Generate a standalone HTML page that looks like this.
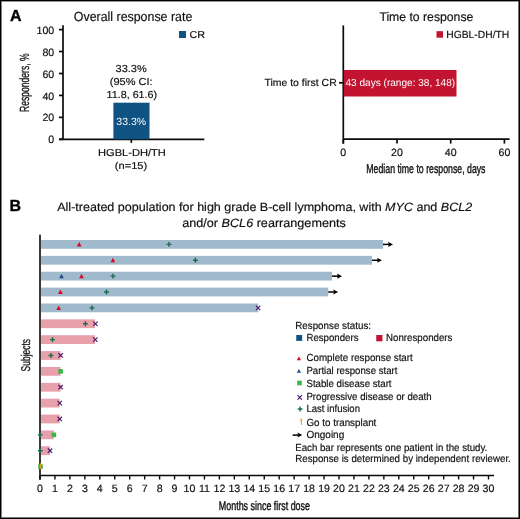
<!DOCTYPE html>
<html><head><meta charset="utf-8"><style>
html,body{margin:0;padding:0;background:#fff;}
#w{position:relative;width:520px;height:519px;overflow:hidden;background:#fff;}
.b{position:absolute;}
svg{position:absolute;left:0;top:0;font-family:"Liberation Sans", sans-serif;will-change:transform;}
</style></head><body><div id="w">
<svg width="520" height="519" viewBox="0 0 520 519" text-rendering="geometricPrecision">
<text x="9.9" y="20.8" font-size="16" text-anchor="start" fill="#000" font-weight="bold" font-style="normal" stroke="#000" stroke-width="0.35">A</text>
<text x="9.6" y="210.8" font-size="16" text-anchor="start" fill="#000" font-weight="bold" font-style="normal" stroke="#000" stroke-width="0.35">B</text>
<line x1="63" y1="25.3" x2="63" y2="140" stroke="#0a0a0a" stroke-width="1.7"/>
<line x1="59" y1="29.6" x2="63" y2="29.6" stroke="#0a0a0a" stroke-width="1.7"/>
<text x="54.2" y="33.7" font-size="10.6" text-anchor="end" fill="#111" font-weight="normal" font-style="normal" stroke="#111" stroke-width="0.18">100</text>
<line x1="59" y1="51.540000000000006" x2="63" y2="51.540000000000006" stroke="#0a0a0a" stroke-width="1.7"/>
<text x="54.2" y="55.64000000000001" font-size="10.6" text-anchor="end" fill="#111" font-weight="normal" font-style="normal" stroke="#111" stroke-width="0.18">80</text>
<line x1="59" y1="73.48" x2="63" y2="73.48" stroke="#0a0a0a" stroke-width="1.7"/>
<text x="54.2" y="77.58" font-size="10.6" text-anchor="end" fill="#111" font-weight="normal" font-style="normal" stroke="#111" stroke-width="0.18">60</text>
<line x1="59" y1="95.42000000000002" x2="63" y2="95.42000000000002" stroke="#0a0a0a" stroke-width="1.7"/>
<text x="54.2" y="99.52000000000001" font-size="10.6" text-anchor="end" fill="#111" font-weight="normal" font-style="normal" stroke="#111" stroke-width="0.18">40</text>
<line x1="59" y1="117.36000000000001" x2="63" y2="117.36000000000001" stroke="#0a0a0a" stroke-width="1.7"/>
<text x="54.2" y="121.46000000000001" font-size="10.6" text-anchor="end" fill="#111" font-weight="normal" font-style="normal" stroke="#111" stroke-width="0.18">20</text>
<line x1="59" y1="139.3" x2="63" y2="139.3" stroke="#0a0a0a" stroke-width="1.7"/>
<text x="54.2" y="143.4" font-size="10.6" text-anchor="end" fill="#111" font-weight="normal" font-style="normal" stroke="#111" stroke-width="0.18">0</text>
<line x1="59" y1="139.3" x2="204.3" y2="139.3" stroke="#0a0a0a" stroke-width="1.7"/>
<line x1="131.3" y1="139.3" x2="131.3" y2="142.9" stroke="#0a0a0a" stroke-width="1.7"/>
<rect x="113.4" y="102.7" width="36.1" height="36.6" fill="#105282"/>
<rect x="179" y="31" width="7" height="7" fill="#105282"/>
<text transform="translate(29.0,82.7) rotate(-90) scale(0.645,1)" x="0" y="0" font-size="13.3" text-anchor="middle" fill="#111" stroke="#111" stroke-width="0.25">Responders, %</text>
<line x1="343.3" y1="25.4" x2="343.3" y2="143.6" stroke="#0a0a0a" stroke-width="1.7"/>
<line x1="343.3" y1="139.2" x2="509.6" y2="139.2" stroke="#0a0a0a" stroke-width="1.7"/>
<line x1="343.3" y1="139.2" x2="343.3" y2="143.6" stroke="#0a0a0a" stroke-width="1.7"/>
<text x="343.3" y="155.8" font-size="10.6" text-anchor="middle" fill="#111" font-weight="normal" font-style="normal" stroke="#111" stroke-width="0.18">0</text>
<line x1="397.0" y1="139.2" x2="397.0" y2="143.6" stroke="#0a0a0a" stroke-width="1.7"/>
<text x="397.0" y="155.8" font-size="10.6" text-anchor="middle" fill="#111" font-weight="normal" font-style="normal" stroke="#111" stroke-width="0.18">20</text>
<line x1="450.70000000000005" y1="139.2" x2="450.70000000000005" y2="143.6" stroke="#0a0a0a" stroke-width="1.7"/>
<text x="450.70000000000005" y="155.8" font-size="10.6" text-anchor="middle" fill="#111" font-weight="normal" font-style="normal" stroke="#111" stroke-width="0.18">40</text>
<line x1="504.40000000000003" y1="139.2" x2="504.40000000000003" y2="143.6" stroke="#0a0a0a" stroke-width="1.7"/>
<text x="504.40000000000003" y="155.8" font-size="10.6" text-anchor="middle" fill="#111" font-weight="normal" font-style="normal" stroke="#111" stroke-width="0.18">60</text>
<line x1="339" y1="82.8" x2="343.3" y2="82.8" stroke="#0a0a0a" stroke-width="1.7"/>
<rect x="343.75" y="70" width="112.75" height="26.5" fill="#c21430"/>
<rect x="436.5" y="31.2" width="6.5" height="6.5" fill="#c21430"/>
<text transform="translate(425.9,173.4) scale(0.684,1)" x="0" y="0" font-size="12.8" text-anchor="middle" fill="#111" stroke="#111" stroke-width="0.4">Median time to response, days</text>
<rect x="41" y="240.0" width="342" height="8.8" fill="#a0b9cd"/>
<line x1="383" y1="244.4" x2="389" y2="244.4" stroke="#000" stroke-width="1.5"/>
<path d="M388,241.8 L393,244.4 L388,247.0 L388.9,244.4 Z" fill="#000"/>
<rect x="41" y="255.87" width="331" height="8.8" fill="#a0b9cd"/>
<line x1="372" y1="260.27" x2="378" y2="260.27" stroke="#000" stroke-width="1.5"/>
<path d="M377,257.66999999999996 L382,260.27 L377,262.87 L377.9,260.27 Z" fill="#000"/>
<rect x="41" y="271.74" width="291" height="8.8" fill="#a0b9cd"/>
<line x1="332" y1="276.14" x2="338" y2="276.14" stroke="#000" stroke-width="1.5"/>
<path d="M337,273.53999999999996 L342,276.14 L337,278.74 L337.9,276.14 Z" fill="#000"/>
<rect x="41" y="287.61" width="287.2" height="8.8" fill="#a0b9cd"/>
<line x1="328.2" y1="292.01" x2="334.2" y2="292.01" stroke="#000" stroke-width="1.5"/>
<path d="M333.2,289.40999999999997 L338.2,292.01 L333.2,294.61 L334.09999999999997,292.01 Z" fill="#000"/>
<rect x="41" y="303.48" width="217.10000000000002" height="8.8" fill="#a0b9cd"/>
<rect x="41" y="319.35" width="54.099999999999994" height="8.8" fill="#e8a0ab"/>
<rect x="41" y="335.22" width="54.099999999999994" height="8.8" fill="#e8a0ab"/>
<rect x="41" y="351.09" width="19.6" height="8.8" fill="#e8a0ab"/>
<rect x="41" y="366.96" width="19.6" height="8.8" fill="#e8a0ab"/>
<rect x="41" y="382.83" width="19.6" height="8.8" fill="#e8a0ab"/>
<rect x="41" y="398.7" width="18.700000000000003" height="8.8" fill="#e8a0ab"/>
<rect x="41" y="414.57" width="18.700000000000003" height="8.8" fill="#e8a0ab"/>
<rect x="41" y="430.44" width="12.899999999999999" height="8.8" fill="#e8a0ab"/>
<rect x="41" y="446.31" width="9.0" height="8.8" fill="#e8a0ab"/>
<line x1="40" y1="234.8" x2="40" y2="479.7" stroke="#0a0a0a" stroke-width="1.6"/>
<line x1="40" y1="475.5" x2="494" y2="475.5" stroke="#0a0a0a" stroke-width="1.6"/>
<line x1="40.0" y1="475.5" x2="40.0" y2="479.5" stroke="#0a0a0a" stroke-width="1.4"/>
<text x="40.0" y="491.8" font-size="10.6" text-anchor="middle" fill="#111" font-weight="normal" font-style="normal" stroke="#111" stroke-width="0.18">0</text>
<line x1="54.95" y1="475.5" x2="54.95" y2="479.5" stroke="#0a0a0a" stroke-width="1.4"/>
<text x="54.95" y="491.8" font-size="10.6" text-anchor="middle" fill="#111" font-weight="normal" font-style="normal" stroke="#111" stroke-width="0.18">1</text>
<line x1="69.9" y1="475.5" x2="69.9" y2="479.5" stroke="#0a0a0a" stroke-width="1.4"/>
<text x="69.9" y="491.8" font-size="10.6" text-anchor="middle" fill="#111" font-weight="normal" font-style="normal" stroke="#111" stroke-width="0.18">2</text>
<line x1="84.85" y1="475.5" x2="84.85" y2="479.5" stroke="#0a0a0a" stroke-width="1.4"/>
<text x="84.85" y="491.8" font-size="10.6" text-anchor="middle" fill="#111" font-weight="normal" font-style="normal" stroke="#111" stroke-width="0.18">3</text>
<line x1="99.8" y1="475.5" x2="99.8" y2="479.5" stroke="#0a0a0a" stroke-width="1.4"/>
<text x="99.8" y="491.8" font-size="10.6" text-anchor="middle" fill="#111" font-weight="normal" font-style="normal" stroke="#111" stroke-width="0.18">4</text>
<line x1="114.75" y1="475.5" x2="114.75" y2="479.5" stroke="#0a0a0a" stroke-width="1.4"/>
<text x="114.75" y="491.8" font-size="10.6" text-anchor="middle" fill="#111" font-weight="normal" font-style="normal" stroke="#111" stroke-width="0.18">5</text>
<line x1="129.7" y1="475.5" x2="129.7" y2="479.5" stroke="#0a0a0a" stroke-width="1.4"/>
<text x="129.7" y="491.8" font-size="10.6" text-anchor="middle" fill="#111" font-weight="normal" font-style="normal" stroke="#111" stroke-width="0.18">6</text>
<line x1="144.64999999999998" y1="475.5" x2="144.64999999999998" y2="479.5" stroke="#0a0a0a" stroke-width="1.4"/>
<text x="144.64999999999998" y="491.8" font-size="10.6" text-anchor="middle" fill="#111" font-weight="normal" font-style="normal" stroke="#111" stroke-width="0.18">7</text>
<line x1="159.6" y1="475.5" x2="159.6" y2="479.5" stroke="#0a0a0a" stroke-width="1.4"/>
<text x="159.6" y="491.8" font-size="10.6" text-anchor="middle" fill="#111" font-weight="normal" font-style="normal" stroke="#111" stroke-width="0.18">8</text>
<line x1="174.54999999999998" y1="475.5" x2="174.54999999999998" y2="479.5" stroke="#0a0a0a" stroke-width="1.4"/>
<text x="174.54999999999998" y="491.8" font-size="10.6" text-anchor="middle" fill="#111" font-weight="normal" font-style="normal" stroke="#111" stroke-width="0.18">9</text>
<line x1="189.5" y1="475.5" x2="189.5" y2="479.5" stroke="#0a0a0a" stroke-width="1.4"/>
<text x="189.5" y="491.8" font-size="10.6" text-anchor="middle" fill="#111" font-weight="normal" font-style="normal" stroke="#111" stroke-width="0.18">10</text>
<line x1="204.45" y1="475.5" x2="204.45" y2="479.5" stroke="#0a0a0a" stroke-width="1.4"/>
<text x="204.45" y="491.8" font-size="10.6" text-anchor="middle" fill="#111" font-weight="normal" font-style="normal" stroke="#111" stroke-width="0.18">11</text>
<line x1="219.39999999999998" y1="475.5" x2="219.39999999999998" y2="479.5" stroke="#0a0a0a" stroke-width="1.4"/>
<text x="219.39999999999998" y="491.8" font-size="10.6" text-anchor="middle" fill="#111" font-weight="normal" font-style="normal" stroke="#111" stroke-width="0.18">12</text>
<line x1="234.35" y1="475.5" x2="234.35" y2="479.5" stroke="#0a0a0a" stroke-width="1.4"/>
<text x="234.35" y="491.8" font-size="10.6" text-anchor="middle" fill="#111" font-weight="normal" font-style="normal" stroke="#111" stroke-width="0.18">13</text>
<line x1="249.29999999999998" y1="475.5" x2="249.29999999999998" y2="479.5" stroke="#0a0a0a" stroke-width="1.4"/>
<text x="249.29999999999998" y="491.8" font-size="10.6" text-anchor="middle" fill="#111" font-weight="normal" font-style="normal" stroke="#111" stroke-width="0.18">14</text>
<line x1="264.25" y1="475.5" x2="264.25" y2="479.5" stroke="#0a0a0a" stroke-width="1.4"/>
<text x="264.25" y="491.8" font-size="10.6" text-anchor="middle" fill="#111" font-weight="normal" font-style="normal" stroke="#111" stroke-width="0.18">15</text>
<line x1="279.2" y1="475.5" x2="279.2" y2="479.5" stroke="#0a0a0a" stroke-width="1.4"/>
<text x="279.2" y="491.8" font-size="10.6" text-anchor="middle" fill="#111" font-weight="normal" font-style="normal" stroke="#111" stroke-width="0.18">16</text>
<line x1="294.15" y1="475.5" x2="294.15" y2="479.5" stroke="#0a0a0a" stroke-width="1.4"/>
<text x="294.15" y="491.8" font-size="10.6" text-anchor="middle" fill="#111" font-weight="normal" font-style="normal" stroke="#111" stroke-width="0.18">17</text>
<line x1="309.09999999999997" y1="475.5" x2="309.09999999999997" y2="479.5" stroke="#0a0a0a" stroke-width="1.4"/>
<text x="309.09999999999997" y="491.8" font-size="10.6" text-anchor="middle" fill="#111" font-weight="normal" font-style="normal" stroke="#111" stroke-width="0.18">18</text>
<line x1="324.05" y1="475.5" x2="324.05" y2="479.5" stroke="#0a0a0a" stroke-width="1.4"/>
<text x="324.05" y="491.8" font-size="10.6" text-anchor="middle" fill="#111" font-weight="normal" font-style="normal" stroke="#111" stroke-width="0.18">19</text>
<line x1="339.0" y1="475.5" x2="339.0" y2="479.5" stroke="#0a0a0a" stroke-width="1.4"/>
<text x="339.0" y="491.8" font-size="10.6" text-anchor="middle" fill="#111" font-weight="normal" font-style="normal" stroke="#111" stroke-width="0.18">20</text>
<line x1="353.95" y1="475.5" x2="353.95" y2="479.5" stroke="#0a0a0a" stroke-width="1.4"/>
<text x="353.95" y="491.8" font-size="10.6" text-anchor="middle" fill="#111" font-weight="normal" font-style="normal" stroke="#111" stroke-width="0.18">21</text>
<line x1="368.9" y1="475.5" x2="368.9" y2="479.5" stroke="#0a0a0a" stroke-width="1.4"/>
<text x="368.9" y="491.8" font-size="10.6" text-anchor="middle" fill="#111" font-weight="normal" font-style="normal" stroke="#111" stroke-width="0.18">22</text>
<line x1="383.84999999999997" y1="475.5" x2="383.84999999999997" y2="479.5" stroke="#0a0a0a" stroke-width="1.4"/>
<text x="383.84999999999997" y="491.8" font-size="10.6" text-anchor="middle" fill="#111" font-weight="normal" font-style="normal" stroke="#111" stroke-width="0.18">23</text>
<line x1="398.79999999999995" y1="475.5" x2="398.79999999999995" y2="479.5" stroke="#0a0a0a" stroke-width="1.4"/>
<text x="398.79999999999995" y="491.8" font-size="10.6" text-anchor="middle" fill="#111" font-weight="normal" font-style="normal" stroke="#111" stroke-width="0.18">24</text>
<line x1="413.75" y1="475.5" x2="413.75" y2="479.5" stroke="#0a0a0a" stroke-width="1.4"/>
<text x="413.75" y="491.8" font-size="10.6" text-anchor="middle" fill="#111" font-weight="normal" font-style="normal" stroke="#111" stroke-width="0.18">25</text>
<line x1="428.7" y1="475.5" x2="428.7" y2="479.5" stroke="#0a0a0a" stroke-width="1.4"/>
<text x="428.7" y="491.8" font-size="10.6" text-anchor="middle" fill="#111" font-weight="normal" font-style="normal" stroke="#111" stroke-width="0.18">26</text>
<line x1="443.65" y1="475.5" x2="443.65" y2="479.5" stroke="#0a0a0a" stroke-width="1.4"/>
<text x="443.65" y="491.8" font-size="10.6" text-anchor="middle" fill="#111" font-weight="normal" font-style="normal" stroke="#111" stroke-width="0.18">27</text>
<line x1="458.59999999999997" y1="475.5" x2="458.59999999999997" y2="479.5" stroke="#0a0a0a" stroke-width="1.4"/>
<text x="458.59999999999997" y="491.8" font-size="10.6" text-anchor="middle" fill="#111" font-weight="normal" font-style="normal" stroke="#111" stroke-width="0.18">28</text>
<line x1="473.54999999999995" y1="475.5" x2="473.54999999999995" y2="479.5" stroke="#0a0a0a" stroke-width="1.4"/>
<text x="473.54999999999995" y="491.8" font-size="10.6" text-anchor="middle" fill="#111" font-weight="normal" font-style="normal" stroke="#111" stroke-width="0.18">29</text>
<line x1="488.5" y1="475.5" x2="488.5" y2="479.5" stroke="#0a0a0a" stroke-width="1.4"/>
<text x="488.5" y="491.8" font-size="10.6" text-anchor="middle" fill="#111" font-weight="normal" font-style="normal" stroke="#111" stroke-width="0.18">30</text>
<path d="M76.85000000000001,246.5 L79.2,241.9 L81.55,246.5 Z" fill="#d60a26"/>
<path d="M166.6,244.4 H171.4 M169,242.0 V246.8" stroke="#1a6b50" stroke-width="1.4" fill="none"/>
<path d="M110.55000000000001,262.37 L112.9,257.77 L115.25,262.37 Z" fill="#d60a26"/>
<path d="M193.0,260.27 H197.8 M195.4,257.87 V262.66999999999996" stroke="#1a6b50" stroke-width="1.4" fill="none"/>
<path d="M59.15,278.24 L61.5,273.64 L63.85,278.24 Z" fill="#1f4f8c"/>
<path d="M79.15,278.24 L81.5,273.64 L83.85,278.24 Z" fill="#d60a26"/>
<path d="M110.6,276.14 H115.4 M113,273.74 V278.53999999999996" stroke="#1a6b50" stroke-width="1.4" fill="none"/>
<path d="M58.05,294.11 L60.4,289.51 L62.75,294.11 Z" fill="#d60a26"/>
<path d="M104.1,292.01 H108.9 M106.5,289.61 V294.40999999999997" stroke="#1a6b50" stroke-width="1.4" fill="none"/>
<path d="M56.35,309.98 L58.7,305.38 L61.050000000000004,309.98 Z" fill="#d60a26"/>
<path d="M89.6,307.88 H94.4 M92,305.48 V310.28" stroke="#1a6b50" stroke-width="1.4" fill="none"/>
<path d="M255.90000000000003,305.68 L260.3,310.08 M260.3,305.68 L255.90000000000003,310.08" stroke="#4a1a6b" stroke-width="1.2" fill="none"/>
<path d="M83.0,323.75 H87.80000000000001 M85.4,321.35 V326.15" stroke="#1a6b50" stroke-width="1.4" fill="none"/>
<path d="M93.2,321.55 L97.60000000000001,325.95 M97.60000000000001,321.55 L93.2,325.95" stroke="#4a1a6b" stroke-width="1.2" fill="none"/>
<path d="M50.1,339.62 H54.9 M52.5,337.22 V342.02" stroke="#1a6b50" stroke-width="1.4" fill="none"/>
<path d="M93.1,337.42 L97.5,341.82 M97.5,337.42 L93.1,341.82" stroke="#4a1a6b" stroke-width="1.2" fill="none"/>
<path d="M48.5,355.48999999999995 H53.3 M50.9,353.09 V357.88999999999993" stroke="#1a6b50" stroke-width="1.4" fill="none"/>
<path d="M58.4,353.28999999999996 L62.800000000000004,357.68999999999994 M62.800000000000004,353.28999999999996 L58.4,357.68999999999994" stroke="#4a1a6b" stroke-width="1.2" fill="none"/>
<rect x="58.300000000000004" y="369.05999999999995" width="4.6" height="4.6" fill="#3cb54a"/>
<path d="M58.4,385.03 L62.800000000000004,389.42999999999995 M62.800000000000004,385.03 L58.4,389.42999999999995" stroke="#4a1a6b" stroke-width="1.2" fill="none"/>
<path d="M57.5,400.9 L61.900000000000006,405.29999999999995 M61.900000000000006,400.9 L57.5,405.29999999999995" stroke="#4a1a6b" stroke-width="1.2" fill="none"/>
<path d="M57.5,416.77 L61.900000000000006,421.16999999999996 M61.900000000000006,416.77 L57.5,421.16999999999996" stroke="#4a1a6b" stroke-width="1.2" fill="none"/>
<path d="M37.9,434.84 H42.699999999999996 M40.3,432.44 V437.23999999999995" stroke="#1a6b50" stroke-width="1.4" fill="none"/>
<rect x="51.6" y="432.53999999999996" width="4.6" height="4.6" fill="#3cb54a"/>
<path d="M37.9,450.71 H42.699999999999996 M40.3,448.31 V453.10999999999996" stroke="#1a6b50" stroke-width="1.4" fill="none"/>
<path d="M47.8,448.51 L52.2,452.90999999999997 M52.2,448.51 L47.8,452.90999999999997" stroke="#4a1a6b" stroke-width="1.2" fill="none"/>
<rect x="38.2" y="464.2799999999999" width="4.6" height="4.6" fill="#3cb54a"/>
<path d="M39.800000000000004,463.2799999999999 H41.6 L41.2,468.0799999999999 L41.800000000000004,468.7799999999999 L41.300000000000004,469.4799999999999 L40.400000000000006,469.17999999999995 L40.300000000000004,467.7799999999999 Z" fill="#f7961e"/>
<text transform="translate(30.1,355.2) rotate(-90) scale(0.67,1)" x="0" y="0" font-size="12.6" text-anchor="middle" fill="#111" stroke="#111" stroke-width="0.28">Subjects</text>
<text transform="translate(264.4,509.5) scale(0.708,1)" x="0" y="0" font-size="12.6" text-anchor="middle" fill="#111" stroke="#111" stroke-width="0.4">Months since first dose</text>
<rect x="296.25" y="335" width="5.9" height="5.9" fill="#105282"/>
<rect x="376.25" y="335" width="6.2" height="6.3" fill="#c21430"/>
<path d="M296.75,360.3 L298.9,356.5 L301.04999999999995,360.3 Z" fill="#d60a26"/>
<path d="M296.75,372.8 L298.9,369.0 L301.04999999999995,372.8 Z" fill="#1f4f8c"/>
<rect x="297.2" y="380.7" width="4.6" height="4.6" fill="#3cb54a"/>
<path d="M297.5,395.2 L301.9,399.59999999999997 M301.9,395.2 L297.5,399.59999999999997" stroke="#4a1a6b" stroke-width="1.2" fill="none"/>
<path d="M297.70000000000005,409.0 H302.5 M300.1,406.6 V411.4" stroke="#1a6b50" stroke-width="1.4" fill="none"/>
<path d="M300.40000000000003,418.8 H302.2 L301.8,423.6 L302.40000000000003,424.3 L301.90000000000003,425.0 L301.0,424.70000000000005 L300.90000000000003,423.3 Z" fill="#f7961e"/>
<line x1="292.6" y1="435.1" x2="298.5" y2="435.1" stroke="#000" stroke-width="1.5"/>
<path d="M297.4,432.6 L302.3,435.1 L297.4,437.6 L298.3,435.1 Z" fill="#000"/>
<text transform="translate(73.79,21.00) scale(0.9400,1)" font-size="13.19" fill="#111" stroke="#111" stroke-width="0.18">Overall response rate</text>
<text transform="translate(189.58,38.10) scale(1.0753,1)" font-size="10.0" fill="#111" stroke="#111" stroke-width="0.18">CR</text>
<text transform="translate(115.57,72.30) scale(1.0864,1)" font-size="10.14" fill="#111" stroke="#111" stroke-width="0.18">33.3%</text>
<text transform="translate(109.74,85.00) scale(1.0899,1)" font-size="10.14" fill="#111" stroke="#111" stroke-width="0.18">(95% CI:</text>
<text transform="translate(106.57,97.70) scale(1.0602,1)" font-size="10.14" fill="#111" stroke="#111" stroke-width="0.18">11.8, 61.6)</text>
<text transform="translate(116.29,124.90) scale(1.0209,1)" font-size="10.3" fill="#fff" stroke="#fff" stroke-width="0">33.3%</text>
<text transform="translate(98.02,155.90) scale(1.1102,1)" font-size="10.0" fill="#111" stroke="#111" stroke-width="0.18">HGBL-DH/TH</text>
<text transform="translate(114.87,168.90) scale(1.1080,1)" font-size="10.0" fill="#111" stroke="#111" stroke-width="0.18">(n=15)</text>
<text transform="translate(379.39,20.50) scale(0.9771,1)" font-size="12.5" fill="#111" stroke="#111" stroke-width="0.18">Time to response</text>
<text transform="translate(446.29,37.70) scale(1.0003,1)" font-size="10.3" fill="#111" stroke="#111" stroke-width="0.18">HGBL-DH/TH</text>
<text transform="translate(264.40,86.30) scale(1.0198,1)" font-size="10.28" fill="#111" stroke="#111" stroke-width="0.18">Time to first CR</text>
<text transform="translate(345.50,86.25) scale(0.9864,1)" font-size="10.21" fill="#fff" stroke="#fff" stroke-width="0">43 days (range: 38, 148)</text>
<text transform="translate(57.23,211.20) scale(1.0436,1)" font-size="12.0" fill="#111" stroke="#111" stroke-width="0.18">All-treated population for high grade B-cell lymphoma, with <tspan font-style="italic">MYC</tspan> and <tspan font-style="italic">BCL2</tspan></text>
<text transform="translate(182.29,226.50) scale(1.0516,1)" font-size="12.0" fill="#111" stroke="#111" stroke-width="0.18">and/or <tspan font-style="italic">BCL6</tspan> rearrangements</text>
<text transform="translate(295.20,328.90) scale(0.9529,1)" font-size="10.3" fill="#111" stroke="#111" stroke-width="0.18">Response status:</text>
<text transform="translate(306.42,341.30) scale(0.9378,1)" font-size="10.3" fill="#111" stroke="#111" stroke-width="0.18">Responders</text>
<text transform="translate(386.06,341.30) scale(0.9422,1)" font-size="10.3" fill="#111" stroke="#111" stroke-width="0.18">Nonresponders</text>
<text transform="translate(306.42,361.40) scale(0.9480,1)" font-size="10.3" fill="#111" stroke="#111" stroke-width="0.18">Complete response start</text>
<text transform="translate(306.42,373.90) scale(0.9349,1)" font-size="10.3" fill="#111" stroke="#111" stroke-width="0.18">Partial response start</text>
<text transform="translate(306.42,386.90) scale(0.9415,1)" font-size="10.3" fill="#111" stroke="#111" stroke-width="0.18">Stable disease start</text>
<text transform="translate(306.42,400.40) scale(0.9389,1)" font-size="10.3" fill="#111" stroke="#111" stroke-width="0.18">Progressive disease or death</text>
<text transform="translate(306.42,412.00) scale(0.9257,1)" font-size="10.3" fill="#111" stroke="#111" stroke-width="0.18">Last infusion</text>
<text transform="translate(306.42,425.50) scale(0.9545,1)" font-size="10.3" fill="#111" stroke="#111" stroke-width="0.18">Go to transplant</text>
<text transform="translate(306.42,438.40) scale(0.9718,1)" font-size="10.3" fill="#111" stroke="#111" stroke-width="0.18">Ongoing</text>
<text transform="translate(295.20,451.00) scale(0.9407,1)" font-size="10.3" fill="#111" stroke="#111" stroke-width="0.18">Each bar represents one patient in the study.</text>
<text transform="translate(295.20,462.20) scale(0.9440,1)" font-size="10.3" fill="#111" stroke="#111" stroke-width="0.18">Response is determined by independent reviewer.</text>
</svg>
<div class="b" style="left:0;top:0;width:520px;height:1px;background:#000"></div>
<div class="b" style="left:1px;top:1px;width:517px;height:1px;background:#959595"></div>
<div class="b" style="left:0;top:0;width:1px;height:519px;background:#000"></div>
<div class="b" style="left:1px;top:1px;width:1px;height:516px;background:#828282"></div>
<div class="b" style="left:519px;top:0;width:1px;height:519px;background:#000"></div>
<div class="b" style="left:518px;top:1px;width:1px;height:517px;background:#6e6e6e"></div>
<div class="b" style="left:0;top:518px;width:520px;height:1px;background:#000"></div>
<div class="b" style="left:1px;top:517px;width:517px;height:1px;background:#787878"></div>
</div></body></html>
